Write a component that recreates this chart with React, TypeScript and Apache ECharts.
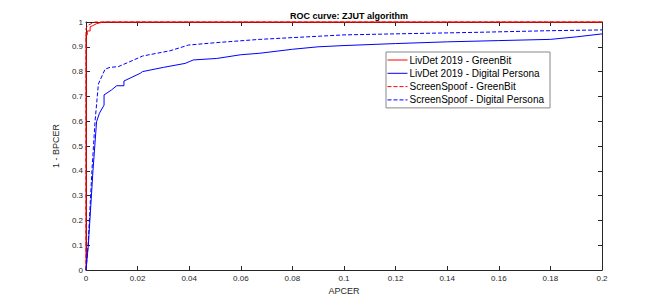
import React, { useEffect, useRef } from "react";
import * as echarts from "echarts";

const seriesNames = [
  "LivDet 2019 - GreenBit",
  "LivDet 2019 - Digital Persona",
  "ScreenSpoof - GreenBit",
  "ScreenSpoof - Digital Persona",
];

const livdetGreenBit: number[][] = [
  [0, 0], [0, 0.948], [0.0005, 0.948], [0.0005, 0.964], [0.0016, 0.964], [0.0016, 0.981],
  [0.0026, 0.985], [0.004, 0.993], [0.0066, 1], [0.2, 1],
];

const livdetDigitalPersona: number[][] = [
  [0, 0], [0.0009, 0.1], [0.0027, 0.4], [0.0041, 0.598], [0.0052, 0.632], [0.007, 0.665],
  [0.007, 0.706], [0.0099, 0.726], [0.0119, 0.743], [0.0147, 0.743], [0.0147, 0.762],
  [0.021, 0.793], [0.0219, 0.8], [0.03, 0.817], [0.0384, 0.833], [0.04, 0.84],
  [0.0416, 0.847], [0.0507, 0.853], [0.06, 0.868], [0.0674, 0.874], [0.08, 0.89],
  [0.09, 0.9], [0.1, 0.905], [0.12, 0.913], [0.14, 0.92], [0.16, 0.925], [0.18, 0.93],
  [0.19, 0.94], [0.2, 0.952],
];

const screenSpoofGreenBit: number[][] = [
  [0, 0], [0, 0.975], [0.0008, 0.987], [0.002, 0.993], [0.0035, 1], [0.2, 1],
];

const screenSpoofDigitalPersona: number[][] = [
  [0, 0], [0.0008, 0.1], [0.0023, 0.4], [0.0035, 0.598], [0.0048, 0.75], [0.0074, 0.81],
  [0.0093, 0.817], [0.0125, 0.82], [0.017, 0.84], [0.022, 0.863], [0.0326, 0.884],
  [0.0397, 0.907], [0.0507, 0.917], [0.0674, 0.93], [0.08, 0.937], [0.1, 0.948],
  [0.119, 0.952], [0.15, 0.958], [0.18, 0.965], [0.2, 0.968],
];

const xTicks = { min: 0, max: 0.2, interval: 0.02 };
const yTicks = { min: 0, max: 1, interval: 0.1 };

const axisColor = "#262626";
const font = "Liberation Sans, Arial, Helvetica, sans-serif";

export default function App() {
  const ref = useRef<HTMLDivElement>(null);
  useEffect(() => {
    document.body.style.margin = "0";
    if (!ref.current) return;
    const chart = echarts.init(ref.current, undefined, { renderer: "svg" });
    const baseX = {
      type: "value" as const,
      min: xTicks.min,
      max: xTicks.max,
      interval: xTicks.interval,
      splitLine: { show: false },
      axisLine: { show: true, onZero: false, lineStyle: { color: axisColor, width: 1 } },
      axisTick: { show: true, inside: true, length: 4, lineStyle: { color: axisColor } },
    };
    const baseY = {
      type: "value" as const,
      min: yTicks.min,
      max: yTicks.max,
      interval: yTicks.interval,
      splitLine: { show: false },
      axisLine: { show: true, onZero: false, lineStyle: { color: axisColor, width: 1 } },
      axisTick: { show: true, inside: true, length: 4, lineStyle: { color: axisColor } },
    };
    const mk = (name: string, data: number[][], color: string, type: string) => ({
      name,
      type: "line" as const,
      data,
      symbol: "none",
      clip: false,
      lineStyle: { color, width: 1, type },
      itemStyle: { color },
    });
    chart.setOption({
      animation: false,
      title: {
        text: "ROC curve: ZJUT algorithm",
        left: 344,
        textAlign: "center",
        top: 6,
        textStyle: { fontFamily: font, fontSize: 9, fontWeight: "bold", color: "#000" },
      },
      grid: { left: 86, right: 62, top: 22, bottom: 34, containLabel: false },
      xAxis: [
        {
          ...baseX,
          position: "bottom",
          name: "APCER",
          nameLocation: "middle",
          nameGap: 15,
          nameTextStyle: { fontFamily: font, fontSize: 9, color: axisColor },
          axisLabel: {
            fontFamily: font, fontSize: 8, color: axisColor, margin: 4,
            formatter: (v: number) => String(Math.round(v * 100) / 100),
          },
        },
        { ...baseX, position: "top", axisLabel: { show: false } },
      ],
      yAxis: [
        {
          ...baseY,
          position: "left",
          name: "1 - BPCER",
          nameLocation: "middle",
          nameGap: 19,
          nameTextStyle: { fontFamily: font, fontSize: 9, color: axisColor },
          axisLabel: {
            fontFamily: font, fontSize: 8, color: axisColor, margin: 3,
            formatter: (v: number) => String(Math.round(v * 10) / 10),
          },
        },
        { ...baseY, position: "right", axisLabel: { show: false } },
      ],
      legend: {
        orient: "vertical",
        left: 386,
        top: 52,
        itemWidth: 20,
        itemHeight: 10,
        itemGap: 3.3,
        padding: [3, 6, 3, 1],
        borderColor: "#888",
        borderWidth: 1,
        backgroundColor: "#fff",
        itemStyle: { opacity: 0 },
        lineStyle: { width: 1 },
        textStyle: { fontFamily: font, fontSize: 10, color: "#000", padding: [0, 0, 0, -3] },
        data: seriesNames,
      },
      series: [
        mk(seriesNames[0], livdetGreenBit, "#ff0000", "solid"),
        mk(seriesNames[1], livdetDigitalPersona, "#0000ff", "solid"),
        mk(seriesNames[2], screenSpoofGreenBit, "#ff0000", "dashed"),
        mk(seriesNames[3], screenSpoofDigitalPersona, "#0000ff", "dashed"),
      ],
    });
    return () => chart.dispose();
  }, []);
  return <div ref={ref} style={{ width: 664, height: 304, background: "#fff" }} />;
}
